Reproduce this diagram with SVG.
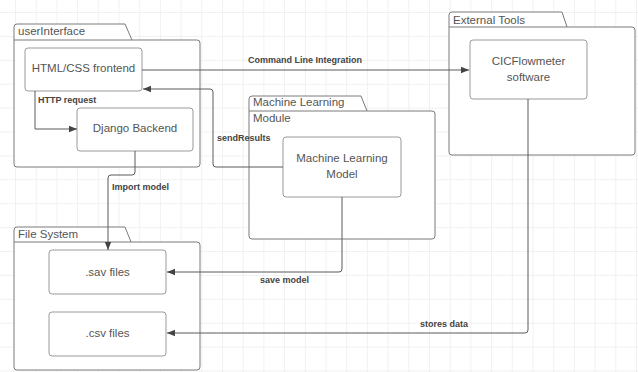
<svg xmlns="http://www.w3.org/2000/svg" width="638" height="372" viewBox="0 0 638 372">
<style>
.pkg{fill:#fff;stroke:#7a7a7a;stroke-width:1}
.node{fill:#fff;stroke:#9a9a9a;stroke-width:1}
.title{font-family:"Liberation Sans",Arial,sans-serif;font-size:11.5px;fill:#555}
.ntext{font-family:"Liberation Sans",Arial,sans-serif;font-size:11.5px;fill:#555;text-anchor:middle}
.lbl{font-family:"Liberation Sans",Arial,sans-serif;font-size:9px;font-weight:bold;fill:#444}
.conn{fill:none;stroke:#5a5a5a;stroke-width:1;stroke-linejoin:round}
</style>
<defs>
<pattern id="grid" patternUnits="userSpaceOnUse" x="15" y="12" width="20.7" height="23.9">
<path d="M0,0 H20.7 M0,0 V23.9" fill="none" stroke="#e4e4e4" stroke-width="1"/>
</pattern>
<marker id="arr" viewBox="0 0 10 10" refX="10" refY="5" markerWidth="8" markerHeight="8" markerUnits="userSpaceOnUse" orient="auto">
<path d="M0,1 L10,5 L0,9 Z" fill="#444"/>
</marker>
</defs>
<rect width="638" height="372" fill="#fff"/>
<rect width="638" height="372" fill="url(#grid)"/>

<g id="userInterface">
<path class="pkg" d="M14,40 V27 Q14,24 17,24 H125 L132,40 H197 Q200,40 200,43 V164 Q200,167 197,167 H17 Q14,167 14,164 Z"/>
<line x1="14" y1="40" x2="132" y2="40" stroke="#7a7a7a"/>
<text class="title" x="18" y="35">userInterface</text>
</g>
<g id="mlModule">
<path class="pkg" d="M249,111 V99 Q249,96 252,96 H361 L367,111 H432 Q435,111 435,114 V236 Q435,239 432,239 H252 Q249,239 249,236 Z"/>
<line x1="249" y1="111" x2="367" y2="111" stroke="#7a7a7a"/>
<text class="title" x="253" y="106">Machine Learning</text>
<text class="title" x="253" y="122">Module</text>
</g>
<g id="externalTools">
<path class="pkg" d="M449,27 V15 Q449,12 452,12 H562 L567,27 H632 Q635,27 635,30 V152 Q635,155 632,155 H452 Q449,155 449,152 Z"/>
<line x1="449" y1="27" x2="567" y2="27" stroke="#7a7a7a"/>
<text class="title" x="453" y="23.5">External Tools</text>
</g>
<g id="fileSystem">
<path class="pkg" d="M14,242 V230 Q14,227 17,227 H125 L131,242 H197 Q200,242 200,245 V367 Q200,370 197,370 H17 Q14,370 14,367 Z"/>
<line x1="14" y1="242" x2="131" y2="242" stroke="#7a7a7a"/>
<text class="title" x="18" y="238">File System</text>
</g>

<g id="frontend">
<rect class="node" x="25" y="48" width="117" height="43" rx="3"/>
<text class="ntext" x="83.5" y="72">HTML/CSS frontend</text>
</g>
<g id="django">
<rect class="node" x="77" y="108" width="116" height="43" rx="3"/>
<text class="ntext" x="135" y="132">Django Backend</text>
</g>
<g id="mlModel">
<rect class="node" x="283" y="137" width="118" height="60" rx="3"/>
<text class="ntext" x="342" y="162">Machine Learning</text>
<text class="ntext" x="342" y="178">Model</text>
</g>
<g id="cicflowmeter">
<rect class="node" x="470" y="40" width="117" height="59" rx="3"/>
<text class="ntext" x="528.5" y="65">CICFlowmeter</text>
<text class="ntext" x="528.5" y="81">software</text>
</g>
<g id="savFiles">
<rect class="node" x="49" y="250" width="117" height="44" rx="3"/>
<text class="ntext" x="107.5" y="276">.sav files</text>
</g>
<g id="csvFiles">
<rect class="node" x="49" y="312" width="117" height="44" rx="3"/>
<text class="ntext" x="107.5" y="337">.csv files</text>
</g>

<g id="connectors">
<path class="conn" d="M142,70 H469" marker-end="url(#arr)"/>
<path class="conn" d="M283,167 H216 Q213,167 213,164 V92 Q213,89 210,89 H143" marker-end="url(#arr)"/>
<path class="conn" d="M35,91 V129 H77" marker-end="url(#arr)"/>
<path class="conn" d="M135,151 V172 Q135,175 132,175 H111 Q108,175 108,178 V250" marker-end="url(#arr)"/>
<path class="conn" d="M342,197 V269 Q342,272 339,272 H167" marker-end="url(#arr)"/>
<path class="conn" d="M528,99 V330 Q528,333 525,333 H167" marker-end="url(#arr)"/>
<text class="lbl" x="248" y="63">Command Line Integration</text>
<text class="lbl" x="217" y="141">sendResults</text>
<text class="lbl" x="38" y="103">HTTP request</text>
<text class="lbl" x="112" y="190">Import model</text>
<text class="lbl" x="260" y="283">save model</text>
<text class="lbl" x="420" y="327">stores data</text>
</g>
</svg>
